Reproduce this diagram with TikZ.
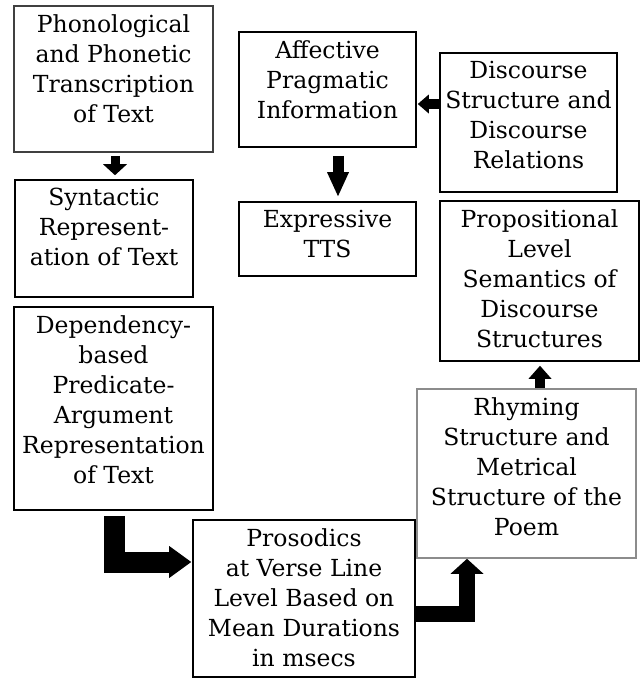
\documentclass[tikz,border=0pt]{standalone}
\usepackage{fontspec}
\setmainfont{DejaVu Serif}
\usetikzlibrary{positioning,calc,arrows.meta}

\begin{document}
\begin{tikzpicture}[x=1pt,y=-1pt,
  box/.style={draw=black, line width=1.6pt, rectangle, inner sep=0pt},
  txt/.style={align=center, inner sep=0pt, font=\fontsize{23.5}{30}\selectfont},
  blk/.style={line width=#1, line join=miter, black}]
\useasboundingbox (0,0) rectangle (641,678);

% boxes
\node (phon) at (113.5,79) [box, draw=black!75, minimum width=199pt, minimum height=146pt]{};
\node (synt) at (104,238.5) [box, minimum width=178pt, minimum height=117pt]{};
\node (dep) at (113.5,408.5) [box, minimum width=199pt, minimum height=203pt]{};
\node (aff) at (327.5,89.5) [box, minimum width=177pt, minimum height=115pt]{};
\node (disc) at (528.5,122.5) [box, minimum width=177pt, minimum height=139pt]{};
\node (expr) at (327.5,239) [box, minimum width=177pt, minimum height=74pt]{};
\node (prop) at (539.5,281) [box, minimum width=199pt, minimum height=160pt]{};
\node (rhym) at (526.5,473.5) [box, draw=black!45, minimum width=219pt, minimum height=169pt]{};
\node (pros) at (304,598.5) [box, minimum width=222pt, minimum height=157pt]{};

% texts
\node (phont) [txt, below=9pt of phon.north]{Phonological\\and Phonetic\\Transcription\\of Text};
\node (syntt) [txt, below=9pt of synt.north]{Syntactic\\Represent-\\ation of Text};
\node (dept) [txt, below=9pt of dep.north]{Dependency-\\based\\Predicate-\\Argument\\Representation\\of Text};
\node (afft) [txt, below=9pt of aff.north]{Affective\\Pragmatic\\Information};
\node (disct) [txt, below=9pt of disc.north]{Discourse\\Structure and\\Discourse\\Relations};
\node (exprt) [txt, below=9pt of expr.north]{Expressive\\TTS};
\node (propt) [txt, below=9pt of prop.north]{Propositional\\Level\\Semantics of\\Discourse\\Structures};
\node (rhymt) [txt, below=9pt of rhym.north]{Rhyming\\Structure and\\Metrical\\Structure of the\\Poem};
\node (prost) [txt, below=9pt of pros.north]{Prosodics\\at Verse Line\\Level Based on\\Mean Durations\\in msecs};

% block arrows
\draw[blk=9pt, -{Triangle[width=24pt,length=11pt,line width=0pt]}] ($(phon.south)+(1.5,3)$) -- ($(synt.north)+(11,-4)$);
\draw[blk=10pt, -{Triangle[width=19pt,length=11pt,line width=0pt]}] ($(disc.west)+(0,-18.5)$) -- ($(aff.east)+(1,14.5)$);
\draw[blk=11pt, -{Triangle[width=22pt,length=24pt,line width=0pt]}] ($(aff.south)+(10.5,8)$) -- ($(expr.north)+(10.5,-5)$);
\draw[blk=10pt, -{Triangle[width=23pt,length=13pt,line width=0pt]}] ($(rhym.north)+(13.5,0)$) -- ($(prop.south)+(0.5,4)$);
\draw[blk=21pt, -{Triangle[width=32pt,length=22pt,line width=0pt]}] ($(dep.south)+(1,5)$) |- ($(pros.west)+(-1,-36.5)$);
\draw[blk=16pt, -{Triangle[width=33pt,length=15pt,line width=0pt]}] ($(pros.east)+(0,15)$) -| ($(rhym.south)+(-59.5,0)$);

\end{tikzpicture}
\end{document}
